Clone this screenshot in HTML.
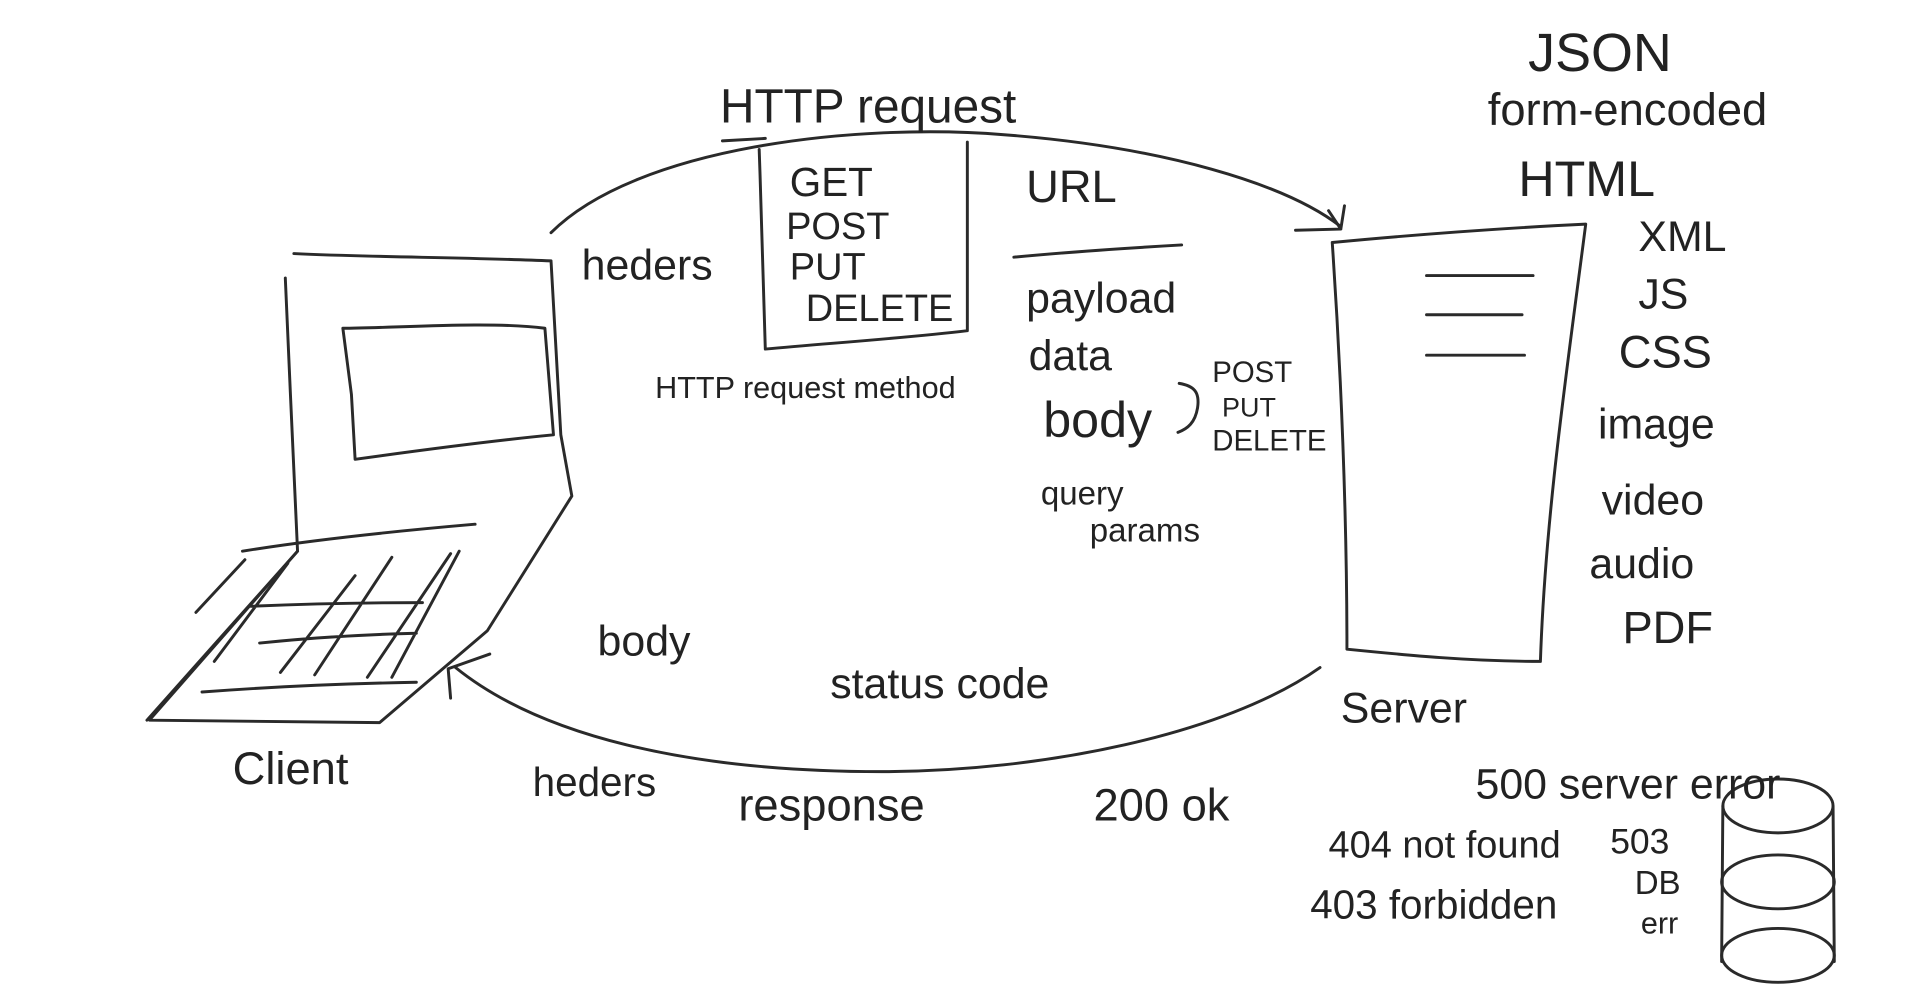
<!DOCTYPE html>
<html><head><meta charset="utf-8"><style>
html,body{margin:0;padding:0;background:#fff;width:1920px;height:997px;overflow:hidden}
svg{display:block}
text{font-family:"Liberation Sans",sans-serif;fill:#222;font-weight:normal}
</style></head><body>
<svg width="1920" height="997" viewBox="0 0 1568 814" preserveAspectRatio="none" xmlns="http://www.w3.org/2000/svg">
<g fill="none" stroke="#2a2a2a" stroke-width="2.4" stroke-linecap="round" stroke-linejoin="round">
<path d="M450 190 C520 120 700 100 820 110 C950 120 1050 150 1095 185"/>
<path d="M1085 172 L1095 187 L1058 188 M1095 187 L1098 168"/>
<path d="M1078 545 C1000 600 850 630 720 630 C560 630 440 600 372 545"/>
<path d="M368 570 L366 546 L400 534"/>
<path d="M233 227 C236 300 240 380 243 450 L208 490 L122 588 L310 590 L398 515 L467 405 L458 355 L450 213 C380 210 300 210 240 207"/>
<path d="M287 322 L290 375 C340 368 400 360 452 355 L445 268 C400 262 320 268 280 268 L287 322"/>
<path d="M243 450 L120 588"/>
<path d="M198 450 C260 440 330 433 388 428"/>
<path d="M200 457 L160 500 M229 549 L290 470 M257 551 L320 455 M300 553 L368 452 M320 553 L375 450 M175 540 L235 460 M165 565 C230 560 290 558 340 557 M212 525 C260 520 300 518 340 517 M205 495 C250 493 300 492 345 492"/>
<path d="M620 122 C622 180 624 240 625 285 C680 280 740 276 790 270 C790 220 790 160 790 116"/>
<path d="M590 115 L625 113"/>
<path d="M828 210 C880 205 930 202 965 200"/>
<path d="M963 313 C975 315 980 320 978 333 C976 345 970 350 962 353"/>
<path d="M1088 198 C1150 192 1230 186 1295 183 C1280 300 1262 420 1258 540 C1200 540 1150 535 1100 530 C1100 420 1095 300 1088 198"/>
<path d="M1165 225 L1252 225 M1165 257 L1243 257 M1165 290 L1245 290"/>
<ellipse cx="1452" cy="658" rx="45" ry="22"/>
<ellipse cx="1452" cy="720" rx="46" ry="22"/>
<ellipse cx="1452" cy="780" rx="46" ry="22"/>
<path d="M1407 658 L1406 785 M1497 658 L1498 785"/>
</g>
<text x="1248" y="58" font-size="44">JSON</text>
<text x="1215" y="102" font-size="37">form-encoded</text>
<text x="1240" y="160" font-size="41">HTML</text>
<text x="1338" y="205" font-size="35">XML</text>
<text x="1338" y="252" font-size="35">JS</text>
<text x="1322" y="300" font-size="37">CSS</text>
<text x="1305" y="358" font-size="35">image</text>
<text x="1308" y="420" font-size="35">video</text>
<text x="1298" y="472" font-size="35">audio</text>
<text x="1325" y="525" font-size="37">PDF</text>
<text x="588" y="100" font-size="39">HTTP request</text>
<text x="645" y="160" font-size="33">GET</text>
<text x="642" y="195" font-size="31">POST</text>
<text x="645" y="228" font-size="31">PUT</text>
<text x="658" y="262" font-size="31">DELETE</text>
<text x="838" y="165" font-size="37">URL</text>
<text x="475" y="228" font-size="35">heders</text>
<text x="535" y="325" font-size="25">HTTP request method</text>
<text x="838" y="255" font-size="35">payload</text>
<text x="840" y="302" font-size="35">data</text>
<text x="852" y="357" font-size="41">body</text>
<text x="990" y="312" font-size="24">POST</text>
<text x="998" y="340" font-size="22">PUT</text>
<text x="990" y="368" font-size="24">DELETE</text>
<text x="850" y="412" font-size="27">query</text>
<text x="890" y="442" font-size="27">params</text>
<text x="488" y="535" font-size="35">body</text>
<text x="678" y="570" font-size="35">status code</text>
<text x="1095" y="590" font-size="35">Server</text>
<text x="190" y="640" font-size="37">Client</text>
<text x="435" y="650" font-size="33">heders</text>
<text x="603" y="670" font-size="37">response</text>
<text x="893" y="670" font-size="37">200 ok</text>
<text x="1205" y="652" font-size="35">500 server error</text>
<text x="1085" y="700" font-size="31">404 not found</text>
<text x="1315" y="697" font-size="29">503</text>
<text x="1070" y="750" font-size="33">403 forbidden</text>
<text x="1335" y="730" font-size="27">DB</text>
<text x="1340" y="762" font-size="25">err</text>
</svg>
</body></html>
